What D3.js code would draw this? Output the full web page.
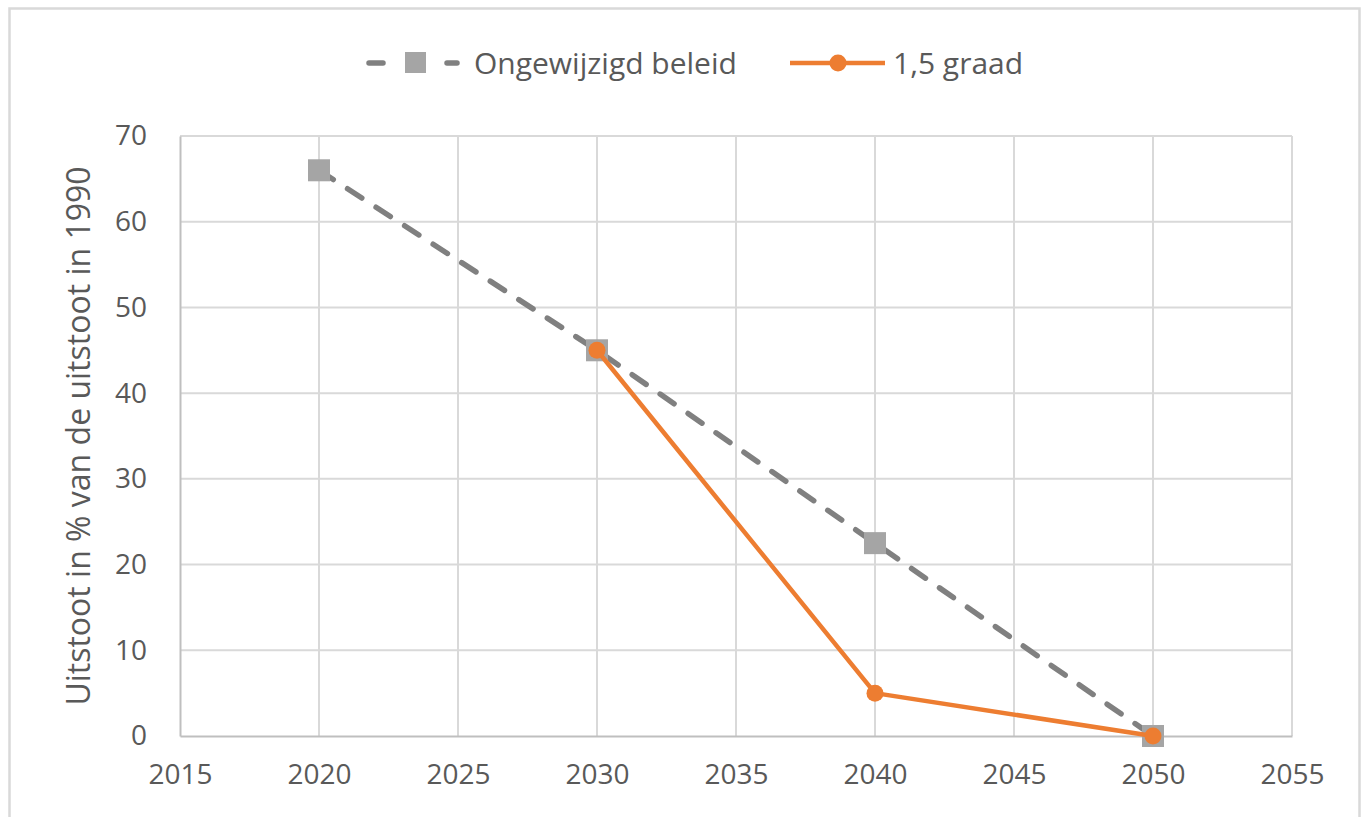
<!DOCTYPE html>
<html>
<head>
<meta charset="utf-8">
<script src="https://cdn.jsdelivr.net/npm/d3@7"></script>
<style>
html,body{margin:0;padding:0;background:#fff;}
svg{display:block;}
text{font-family:"Open Sans","Liberation Sans",sans-serif;fill:#595959;}
</style>
</head>
<body>
<svg id="chart" width="1370" height="817"></svg>
<script>
const years = [2020, 2030, 2040, 2050];
const ongewijzigd = [66, 45, 22.5, 0];
const graad15Years = [2030, 2040, 2050];
const graad15 = [45, 5, 0];
const xTicks = [2015, 2020, 2025, 2030, 2035, 2040, 2045, 2050, 2055];
const yTicks = [0, 10, 20, 30, 40, 50, 60, 70];
const seriesNames = ["Ongewijzigd beleid", "1,5 graad"];
const yTitle = "Uitstoot in % van de uitstoot in 1990";

const svg = d3.select("#chart");
const W = 1370, H = 817;
const m = {left:180, right:W-1292, top:136, bottom:H-736};

// outer frame
svg.append("rect").attr("x",9.5).attr("y",8.5).attr("width",1350).attr("height",830)
  .attr("fill","#fff").attr("stroke","#d9d9d9").attr("stroke-width",2.5);

const x = d3.scaleLinear().domain([2015,2055]).range([m.left, W-m.right]);
const y = d3.scaleLinear().domain([0,70]).range([H-m.bottom, m.top]);

// gridlines
const g = svg.append("g");
g.selectAll(".hg").data(yTicks.filter(d=>d>0)).join("line")
  .attr("x1",x(2015)).attr("x2",x(2055)).attr("y1",d=>y(d)).attr("y2",d=>y(d))
  .attr("stroke","#d9d9d9").attr("stroke-width",2);
g.selectAll(".vg").data(xTicks.filter(d=>d>2015)).join("line")
  .attr("x1",d=>x(d)).attr("x2",d=>x(d)).attr("y1",y(0)).attr("y2",y(70))
  .attr("stroke","#d9d9d9").attr("stroke-width",2);

// axes
const xAxis = d3.axisBottom(x).tickValues(xTicks).tickFormat(d3.format("d")).tickSize(0).tickPadding(28);
const ax = svg.append("g").attr("transform",`translate(0,${y(0)})`).call(xAxis);
ax.select(".domain").attr("stroke","#bfbfbf").attr("stroke-width",2);
ax.selectAll("text").attr("font-size",28).style("fill","#595959");

const yAxis = d3.axisLeft(y).tickValues(yTicks).tickSize(0).tickPadding(33);
const ay = svg.append("g").attr("transform",`translate(${x(2015)},0)`).call(yAxis);
ay.select(".domain").attr("stroke","#bfbfbf").attr("stroke-width",2);
ay.selectAll("text").attr("font-size",28).style("fill","#595959");

// y title
svg.append("text").attr("transform",`translate(90,${(y(0)+y(70))/2}) rotate(-90)`)
  .attr("text-anchor","middle").attr("font-size",32).text(yTitle);

// series 1 dashed grey
const d1 = years.map((yr,i)=>({x:yr,y:ongewijzigd[i]}));
const line = d3.line().x(d=>x(d.x)).y(d=>y(d.y));
svg.append("path").datum(d1).attr("d",line).attr("fill","none")
  .attr("stroke","#808080").attr("stroke-width",5.5).attr("stroke-dasharray","17,17")
  .attr("stroke-linecap","round");
svg.selectAll(".sq").data(d1).join("rect")
  .attr("x",d=>x(d.x)-11).attr("y",d=>y(d.y)-11).attr("width",22).attr("height",22)
  .attr("fill","#a5a5a5");

// series 2 orange
const d2 = graad15Years.map((yr,i)=>({x:yr,y:graad15[i]}));
svg.append("path").datum(d2).attr("d",line).attr("fill","none")
  .attr("stroke","#ed7d31").attr("stroke-width",4.5).attr("stroke-linejoin","round");
svg.selectAll(".ci").data(d2).join("circle")
  .attr("cx",d=>x(d.x)).attr("cy",d=>y(d.y)).attr("r",8.5).attr("fill","#ed7d31");

// legend
const lg = svg.append("g");
lg.append("line").attr("x1",369).attr("x2",457).attr("y1",63).attr("y2",63)
  .attr("stroke","#808080").attr("stroke-width",5.5).attr("stroke-dasharray","14,25")
  .attr("stroke-linecap","round");
lg.append("rect").attr("x",405).attr("y",52).attr("width",21).attr("height",21).attr("fill","#a5a5a5");
lg.append("text").attr("x",474).attr("y",63).attr("dy","0.35em").attr("font-size",30).text(seriesNames[0]);
lg.append("line").attr("x1",790).attr("x2",885).attr("y1",63).attr("y2",63)
  .attr("stroke","#ed7d31").attr("stroke-width",4.5);
lg.append("circle").attr("cx",838).attr("cy",63).attr("r",8.5).attr("fill","#ed7d31");
lg.append("text").attr("x",893).attr("y",63).attr("dy","0.35em").attr("font-size",30).text(seriesNames[1]);
</script>
</body>
</html>
